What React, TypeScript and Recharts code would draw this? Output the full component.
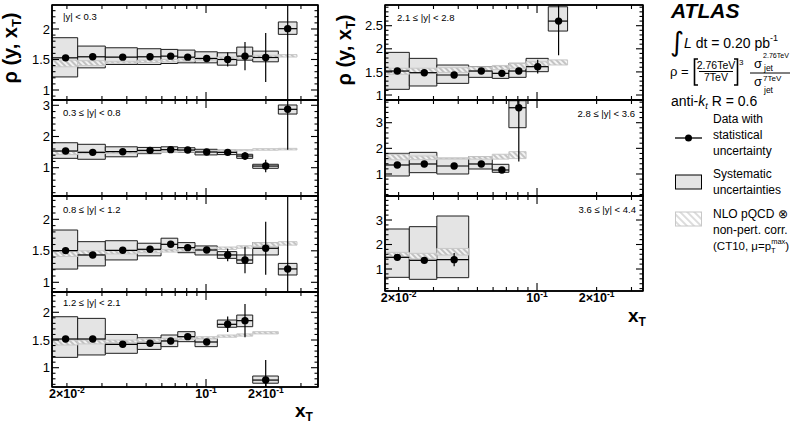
import React from 'react';
import { ComposedChart, XAxis, YAxis, Scatter, ErrorBar, ReferenceArea } from 'recharts';

// ---- x_T bins (shared by all rapidity bins) ----
const binLo = [0.0165, 0.02265, 0.03119, 0.04519, 0.05943, 0.07211, 0.08805, 0.1140, 0.1427, 0.1717, 0.2309];
const binHi = [0.02265, 0.03119, 0.04519, 0.05943, 0.07211, 0.08805, 0.1140, 0.1427, 0.1717, 0.2309, 0.2866];
const binX = [0.0197, 0.02696, 0.03815, 0.05232, 0.06646, 0.08091, 0.1008, 0.1285, 0.157, 0.1995, 0.2573];

const xTicks = [0.02, 0.03, 0.04, 0.05, 0.06, 0.07, 0.08, 0.09, 0.1, 0.2, 0.3];
const xTickLabels: Record<string, [string, string]> = { '0.02': ['2×10', '-2'], '0.1': ['10', '-1'], '0.2': ['2×10', '-1'] };

// ---- |y| < 0.3 ----
const rho1 = [1.527, 1.544, 1.538, 1.544, 1.555, 1.538, 1.516, 1.50, 1.555, 1.533, 2.005];
const stat1 = [0.01, 0.01, 0.01, 0.01, 0.01, 0.015, 0.02, 0.115, 0.23, 0.40, 1.2];
const sysLo1 = [1.214, 1.363, 1.418, 1.418, 1.434, 1.445, 1.445, 1.407, 1.489, 1.462, 1.912];
const sysHi1 = [1.857, 1.72, 1.692, 1.676, 1.665, 1.654, 1.626, 1.61, 1.703, 1.637, 2.115];
const thLo1 = [1.38, 1.40, 1.44, 1.45, 1.46, 1.47, 1.49, 1.50, 1.52, 1.53, 1.54];
const thHi1 = [1.49, 1.48, 1.47, 1.49, 1.50, 1.51, 1.53, 1.54, 1.56, 1.57, 1.58];

// ---- 0.3 <= |y| < 0.8 ----
const rho2 = [1.535, 1.492, 1.513, 1.556, 1.578, 1.567, 1.503, 1.492, 1.374, 1.053, 2.872];
const stat2 = [0.02, 0.02, 0.02, 0.02, 0.02, 0.02, 0.03, 0.05, 0.13, 0.2, 1.3];
const sysLo2 = [1.30, 1.27, 1.35, 1.45, 1.49, 1.49, 1.41, 1.42, 1.30, 0.98, 2.72];
const sysHi2 = [1.80, 1.75, 1.67, 1.65, 1.67, 1.64, 1.59, 1.56, 1.43, 1.11, 3.01];
const thLo2 = [1.42, 1.45, 1.46, 1.48, 1.49, 1.50, 1.51, 1.53, 1.54, 1.56, 1.57];
const thHi2 = [1.52, 1.52, 1.51, 1.52, 1.53, 1.54, 1.55, 1.57, 1.58, 1.61, 1.62];

// ---- 0.8 <= |y| < 1.2 ----
const rho3 = [1.503, 1.434, 1.508, 1.524, 1.603, 1.55, 1.513, 1.434, 1.354, 1.54, 1.212];
const stat3 = [0.02, 0.02, 0.02, 0.02, 0.03, 0.03, 0.04, 0.1, 0.21, 0.42, 1.3];
const sysLo3 = [1.21, 1.26, 1.355, 1.42, 1.51, 1.47, 1.434, 1.38, 1.30, 1.434, 1.116];
const sysHi3 = [1.83, 1.645, 1.66, 1.62, 1.70, 1.63, 1.577, 1.487, 1.434, 1.63, 1.30];
const thLo3 = [1.41, 1.43, 1.45, 1.47, 1.48, 1.49, 1.50, 1.52, 1.54, 1.57, 1.59];
const thHi3 = [1.49, 1.50, 1.50, 1.51, 1.52, 1.53, 1.54, 1.56, 1.58, 1.63, 1.645];

// ---- 1.2 <= |y| < 2.1 ----
const rho4 = [1.518, 1.518, 1.422, 1.44, 1.482, 1.56, 1.464, 1.783, 1.849, 0.777];
const stat4 = [0.02, 0.02, 0.02, 0.02, 0.03, 0.03, 0.04, 0.14, 0.3, 0.36];
const sysLo4 = [1.187, 1.23, 1.26, 1.33, 1.38, 1.47, 1.38, 1.73, 1.74, 0.72];
const sysHi4 = [1.92, 1.89, 1.60, 1.54, 1.59, 1.65, 1.53, 1.86, 1.95, 0.85];
const thLo4 = [1.41, 1.43, 1.45, 1.47, 1.49, 1.51, 1.52, 1.55, 1.57, 1.61];
const thHi4 = [1.50, 1.50, 1.50, 1.52, 1.53, 1.55, 1.56, 1.59, 1.61, 1.65];

// ---- 2.1 <= |y| < 2.8 ----
const rho5 = [1.519, 1.483, 1.433, 1.519, 1.469, 1.519, 1.613, 2.60];
const stat5 = [0.02, 0.02, 0.03, 0.03, 0.04, 0.06, 0.15, 0.74];
const sysLo5 = [1.123, 1.195, 1.252, 1.382, 1.36, 1.382, 1.505, 2.384];
const sysHi5 = [1.923, 1.793, 1.649, 1.613, 1.613, 1.685, 1.793, 2.91];
const thLo5 = [1.45, 1.47, 1.49, 1.52, 1.55, 1.58, 1.62, 1.65];
const thHi5 = [1.58, 1.58, 1.59, 1.61, 1.64, 1.68, 1.72, 1.76];

// ---- 2.8 <= |y| < 3.6 ----
const rho6 = [1.351, 1.39, 1.312, 1.39, 1.156, 3.584];
const stat6 = [0.03, 0.03, 0.03, 0.04, 0.06, 2.1];
const sysLo6 = [0.922, 1.052, 1.0, 1.195, 1.065, 2.805];
const sysHi6 = [1.805, 1.844, 1.61, 1.675, 1.377, 3.857];
const thLo6 = [1.55, 1.56, 1.58, 1.58, 1.58, 1.60];
const thHi6 = [1.77, 1.70, 1.62, 1.68, 1.77, 1.87];

// ---- 3.6 <= |y| < 4.4 ----
const rho7 = [1.476, 1.354, 1.381];
const stat7 = [0.05, 0.06, 0.27];
const sysLo7 = [0.66, 0.578, 0.646];
const sysHi7 = [2.633, 2.728, 3.163];
const thLo7 = [1.50, 1.41, 1.57];
const thHi7 = [1.68, 1.64, 1.84];

// ---- y tick values ----
const yTicks1 = [0.9, 1, 1.1, 1.2, 1.3, 1.4, 1.5, 1.6, 1.7, 1.8, 1.9, 2, 2.1, 2.2, 2.3];
const yTicks2 = [0.2, 0.4, 0.6, 0.8, 1, 1.2, 1.4, 1.6, 1.8, 2, 2.2, 2.4, 2.6, 2.8, 3];
const yTicks4 = [0.7, 0.8, 0.9, 1, 1.1, 1.2, 1.3, 1.4, 1.5, 1.6, 1.7, 1.8, 1.9, 2, 2.1, 2.2, 2.3];
const yTicks5 = [0.9, 1, 1.1, 1.2, 1.3, 1.4, 1.5, 1.6, 1.7, 1.8, 1.9, 2, 2.1, 2.2, 2.3, 2.4, 2.5, 2.6, 2.7, 2.8, 2.9];
const yTicks6 = [0.2, 0.4, 0.6, 0.8, 1, 1.2, 1.4, 1.6, 1.8, 2, 2.2, 2.4, 2.6, 2.8, 3, 3.2, 3.4, 3.6, 3.8];
const yMajorHalf = [1, 1.5, 2, 2.5];
const yMajorUnit = [1, 2, 3];

const panelLabels = ['|y| < 0.3', '0.3 ≤ |y| < 0.8', '0.8 ≤ |y| < 1.2', '1.2 ≤ |y| < 2.1', '2.1 ≤ |y| < 2.8', '2.8 ≤ |y| < 3.6', '3.6 ≤ |y| < 4.4'];

const FONT = "'Liberation Sans', Arial, Helvetica, sans-serif";

type PanelData = { rho: number[]; stat: number[]; sysLo: number[]; sysHi: number[]; thLo: number[]; thHi: number[] };
type Layout = {
  left: number; right: number; top: number; bottom: number;
  xMin: number; xMax: number; yMin: number; yMax: number;
  ticks: number[]; majors: number[]; showX: boolean;
};

const near = (a: number, b: number) => Math.abs(a - b) < 1e-6;

function makeXTick(side: 'bottom' | 'top', withLabels: boolean) {
  return (props: any) => {
    const { x, y, payload } = props;
    const v = payload.value as number;
    const len = near(v, 0.1) ? 8 : 4;
    const dir = side === 'bottom' ? -1 : 1;
    const lab = withLabels ? xTickLabels[String(v)] : undefined;
    return (
      <g>
        <path d={`M${x},${y}L${x},${y + dir * len}`} stroke="#000" strokeWidth={1.1} fill="none" />
        {lab && (
          <text x={x} y={y + 10.5} textAnchor="middle" fontSize={12.5} fontWeight="bold" fontFamily={FONT} fill="#000">
            <tspan>{lab[0]}</tspan>
            <tspan dy={-5} fontSize={8.5}>{lab[1]}</tspan>
          </text>
        )}
      </g>
    );
  };
}

function makeYTick(side: 'left' | 'right', majors: number[]) {
  return (props: any) => {
    const { x, y, payload } = props;
    const v = payload.value as number;
    const major = majors.some((m) => near(m, v));
    const len = major ? 7 : 3.5;
    const dir = side === 'left' ? 1 : -1;
    return (
      <g>
        <path d={`M${x},${y}L${x + dir * len},${y}`} stroke="#000" strokeWidth={1.1} fill="none" />
        {side === 'left' && major && (
          <text x={x - 2} y={y} dy="0.36em" textAnchor="end" fontSize={13} fontFamily={FONT} fill="#000">
            {String(v)}
          </text>
        )}
      </g>
    );
  };
}

const Dot = (p: any) => <circle cx={p.cx} cy={p.cy} r={3.7} fill="#000" />;

function Panel({ L, D, id }: { L: Layout; D: PanelData; id: string }) {
  const YW = 40;
  const XH = L.showX ? 24 : 1;
  const pw = L.right - L.left;
  const ph = L.bottom - L.top;
  // error bars are cut at the frame of the panel, as in the original figure
  const pts = D.rho.map((r, i) => ({
    x: binX[i],
    y: r,
    ey: [Math.min(D.stat[i], r - L.yMin), Math.min(D.stat[i], L.yMax - r)],
    ex: [binX[i] - Math.max(binLo[i], L.xMin), Math.min(binHi[i], L.xMax) - binX[i]],
  }));
  const xDom = [L.xMin, L.xMax];
  const yDom = [L.yMin, L.yMax];
  const axisLine = { stroke: '#000', strokeWidth: 1.5 };
  return (
    <div style={{ position: 'absolute', left: L.left - YW, top: L.top - 2 }}>
      <ComposedChart width={YW + pw + 2} height={2 + ph + XH} margin={{ top: 1, right: 1, left: 0, bottom: 0 }}>
        <defs>
          <pattern id={`hatch-${id}`} patternUnits="userSpaceOnUse" width={4} height={4} patternTransform="rotate(-45)">
            <rect x={0} y={0} width={4} height={4} fill="#f4f4f4" />
            <line x1={1} y1={0} x2={1} y2={4} stroke="#b0b0b0" strokeWidth={1.6} />
          </pattern>
        </defs>
        <XAxis xAxisId={0} dataKey="x" type="number" scale="log" domain={xDom} allowDataOverflow ticks={xTicks}
          interval={0} height={XH} tickSize={0} tickMargin={0} tickLine={false} axisLine={axisLine}
          tick={makeXTick('bottom', L.showX)} />
        <XAxis xAxisId="top" orientation="top" dataKey="x" type="number" scale="log" domain={xDom} allowDataOverflow
          ticks={xTicks} interval={0} height={1} tickSize={0} tickMargin={0} tickLine={false} axisLine={axisLine}
          tick={makeXTick('top', false)} />
        <YAxis yAxisId={0} type="number" domain={yDom} allowDataOverflow ticks={L.ticks} interval={0} width={YW}
          tickSize={0} tickMargin={0} tickLine={false} axisLine={axisLine} tick={makeYTick('left', L.majors)} />
        <YAxis yAxisId="right" orientation="right" type="number" domain={yDom} allowDataOverflow ticks={L.ticks}
          interval={0} width={1} tickSize={0} tickMargin={0} tickLine={false} axisLine={axisLine}
          tick={makeYTick('right', L.majors)} />
        {D.rho.map((_, i) => (
          <ReferenceArea key={'s' + i} x1={binLo[i]} x2={binHi[i]} y1={D.sysLo[i]} y2={D.sysHi[i]} ifOverflow="hidden"
            fill="#e4e4e4" fillOpacity={1} stroke="#1e1e1e" strokeWidth={1} />
        ))}
        {D.rho.map((_, i) => (
          <ReferenceArea key={'t' + i} x1={binLo[i]} x2={binHi[i]} y1={D.thLo[i]} y2={D.thHi[i]} ifOverflow="hidden"
            fill={`url(#hatch-${id})`} fillOpacity={0.9} stroke="#c8c8c8" strokeWidth={1} />
        ))}
        <ReferenceArea x1={L.xMin} x2={L.xMax} y1={L.yMin} y2={L.yMax} ifOverflow="visible"
          fill="none" fillOpacity={0} stroke="#000" strokeWidth={1.5} />
        <Scatter data={pts} dataKey="y" isAnimationActive={false} shape={Dot}>
          <ErrorBar dataKey="ey" direction="y" width={0} stroke="#000" strokeWidth={1.2} />
          <ErrorBar dataKey="ex" direction="x" width={0} stroke="#000" strokeWidth={1.2} />
        </Scatter>
      </ComposedChart>
    </div>
  );
}

const LX = { xMin: 0.01683, xMax: 0.3654 };
const RX = { xMin: 0.01707, xMax: 0.3430 };

const layouts: Layout[] = [
  { left: 52, right: 318, top: 5, bottom: 100, ...LX, yMin: 0.836, yMax: 2.393, ticks: yTicks1, majors: yMajorHalf, showX: false },
  { left: 52, right: 318, top: 100, bottom: 196, ...LX, yMin: 0.093, yMax: 3.17, ticks: yTicks2, majors: yMajorUnit, showX: false },
  { left: 52, right: 318, top: 196, bottom: 292, ...LX, yMin: 0.846, yMax: 2.37, ticks: yTicks1, majors: yMajorHalf, showX: false },
  { left: 52, right: 318, top: 292, bottom: 387, ...LX, yMin: 0.652, yMax: 2.366, ticks: yTicks4, majors: yMajorHalf, showX: true },
  { left: 385, right: 643, top: 5, bottom: 100, ...RX, yMin: 0.892, yMax: 2.948, ticks: yTicks5, majors: yMajorHalf, showX: false },
  { left: 385, right: 643, top: 100, bottom: 196, ...RX, yMin: 0.142, yMax: 3.885, ticks: yTicks6, majors: yMajorUnit, showX: false },
  { left: 385, right: 643, top: 196, bottom: 291, ...RX, yMin: 0.102, yMax: 3.98, ticks: yTicks6, majors: yMajorUnit, showX: true },
];

const datasets: PanelData[] = [
  { rho: rho1, stat: stat1, sysLo: sysLo1, sysHi: sysHi1, thLo: thLo1, thHi: thHi1 },
  { rho: rho2, stat: stat2, sysLo: sysLo2, sysHi: sysHi2, thLo: thLo2, thHi: thHi2 },
  { rho: rho3, stat: stat3, sysLo: sysLo3, sysHi: sysHi3, thLo: thLo3, thHi: thHi3 },
  { rho: rho4, stat: stat4, sysLo: sysLo4, sysHi: sysHi4, thLo: thLo4, thHi: thHi4 },
  { rho: rho5, stat: stat5, sysLo: sysLo5, sysHi: sysHi5, thLo: thLo5, thHi: thHi5 },
  { rho: rho6, stat: stat6, sysLo: sysLo6, sysHi: sysHi6, thLo: thLo6, thHi: thHi6 },
  { rho: rho7, stat: stat7, sysLo: sysLo7, sysHi: sysHi7, thLo: thLo7, thHi: thHi7 },
];

const labelPos = [
  { x: 63, y: 20, anchor: 'start' },
  { x: 63, y: 115.5, anchor: 'start' },
  { x: 63, y: 213, anchor: 'start' },
  { x: 63, y: 305.5, anchor: 'start' },
  { x: 397, y: 20.5, anchor: 'start' },
  { x: 635, y: 116.5, anchor: 'end' },
  { x: 636, y: 213, anchor: 'end' },
];

function Overlay() {
  const t = { fontFamily: FONT, fill: '#000' } as const;
  return (
    <svg width={791} height={426} style={{ position: 'absolute', left: 0, top: 0, pointerEvents: 'none' }}>
      <defs>
        <pattern id="hatch-legend" patternUnits="userSpaceOnUse" width={5} height={5} patternTransform="rotate(-45)">
          <line x1={1} y1={0} x2={1} y2={5} stroke="#c4c4c4" strokeWidth={1.2} />
        </pattern>
      </defs>
      {/* y titles */}
      <text transform="translate(17,48) rotate(-90)" textAnchor="middle" fontSize={20} fontWeight="bold" {...t}>
        <tspan>ρ (y, x</tspan><tspan dy={4} fontSize={13}>T</tspan><tspan dy={-4}>)</tspan>
      </text>
      <text transform="translate(351,50) rotate(-90)" textAnchor="middle" fontSize={20} fontWeight="bold" {...t}>
        <tspan>ρ (y, x</tspan><tspan dy={4} fontSize={13}>T</tspan><tspan dy={-4}>)</tspan>
      </text>
      {/* x titles */}
      <text x={295} y={417} fontSize={19} fontWeight="bold" {...t}>
        <tspan>x</tspan><tspan dy={4} fontSize={12}>T</tspan>
      </text>
      <text x={628} y={322} fontSize={19} fontWeight="bold" {...t}>
        <tspan>x</tspan><tspan dy={4} fontSize={12}>T</tspan>
      </text>
      {/* panel labels */}
      {panelLabels.map((s, i) => (
        <text key={i} x={labelPos[i].x} y={labelPos[i].y} textAnchor={labelPos[i].anchor as any} fontSize={9.5} {...t}>{s}</text>
      ))}
      {/* ATLAS block */}
      <text x={671} y={18} fontSize={21} fontWeight="bold" fontStyle="italic" {...t}>ATLAS</text>
      <text x={670} y={51} fontSize={27} fontFamily="'DejaVu Sans', sans-serif" fill="#000">∫</text>
      <text x={684} y={48} fontSize={14} {...t}>
        <tspan fontStyle="italic">L</tspan><tspan> dt = 0.20 pb</tspan><tspan dy={-7} fontSize={9}>-1</tspan>
      </text>
      {/* rho definition */}
      <text x={670} y={76} fontSize={13} {...t}>ρ =</text>
      <path d="M698,59 L694.5,59 L694.5,85 L698,85" fill="none" stroke="#000" strokeWidth={1.6} />
      <path d="M734,59 L737.5,59 L737.5,85 L734,85" fill="none" stroke="#000" strokeWidth={1.6} />
      <text x={716} y={69} textAnchor="middle" fontSize={10.5} {...t}>2.76TeV</text>
      <line x1={699} x2={733} y1={71.5} y2={71.5} stroke="#000" strokeWidth={1} />
      <text x={716} y={81} textAnchor="middle" fontSize={10.5} {...t}>7TeV</text>
      <text x={739} y={65} fontSize={8} {...t}>3</text>
      <text x={754} y={68} fontSize={13} {...t}>σ</text>
      <text x={763} y={58} fontSize={8} textLength={26} lengthAdjust="spacingAndGlyphs" {...t}>2.76TeV</text>
      <text x={764} y={70.5} fontSize={8.5} {...t}>jet</text>
      <line x1={750} x2={790} y1={73} y2={73} stroke="#000" strokeWidth={1} />
      <text x={754} y={86} fontSize={13} {...t}>σ</text>
      <text x={763} y={81} fontSize={8} {...t}>7TeV</text>
      <text x={764} y={93} fontSize={8.5} {...t}>jet</text>
      {/* anti-kt */}
      <text x={671} y={106} fontSize={14} {...t}>
        <tspan>anti-</tspan><tspan fontStyle="italic">k</tspan><tspan dy={3} fontSize={9} fontStyle="italic">t</tspan><tspan dy={-3}> R = 0.6</tspan>
      </text>
      {/* legend entries */}
      <line x1={675} x2={702} y1={138} y2={138} stroke="#000" strokeWidth={1.3} />
      <circle cx={688.5} cy={138} r={3.5} fill="#000" />
      <text x={713} y={123} fontSize={12} {...t}>Data with</text>
      <text x={713} y={139} fontSize={12} {...t}>statistical</text>
      <text x={713} y={155} fontSize={12} {...t}>uncertainty</text>
      <rect x={675.5} y={175} width={26} height={14} fill="#e4e4e4" stroke="#000" strokeWidth={1} />
      <text x={713} y={178} fontSize={12} {...t}>Systematic</text>
      <text x={713} y={194} fontSize={12} {...t}>uncertainties</text>
      <rect x={675.5} y={212} width={26} height={14} fill="url(#hatch-legend)" stroke="#c8c8c8" strokeWidth={1} />
      <text x={713} y={218} fontSize={12} {...t}>NLO pQCD ⊗</text>
      <text x={713} y={234} fontSize={12} {...t}>non-pert. corr.</text>
      <text x={713} y={250} fontSize={11.5} {...t}>
        <tspan>(CT10, μ=p</tspan><tspan dy={3} fontSize={7.5}>T</tspan><tspan dy={-9} dx={-4.5} fontSize={7.5}>max</tspan><tspan dy={6}>)</tspan>
      </text>
    </svg>
  );
}

export default function App() {
  return (
    <div style={{ position: 'absolute', left: 0, top: 0, width: 791, height: 426, background: '#fff', overflow: 'hidden' }}>
      <style>{'svg.recharts-surface { overflow: visible; }'}</style>
      {layouts.map((L, i) => (
        <Panel key={i} L={L} D={datasets[i]} id={'p' + i} />
      ))}
      <Overlay />
    </div>
  );
}
